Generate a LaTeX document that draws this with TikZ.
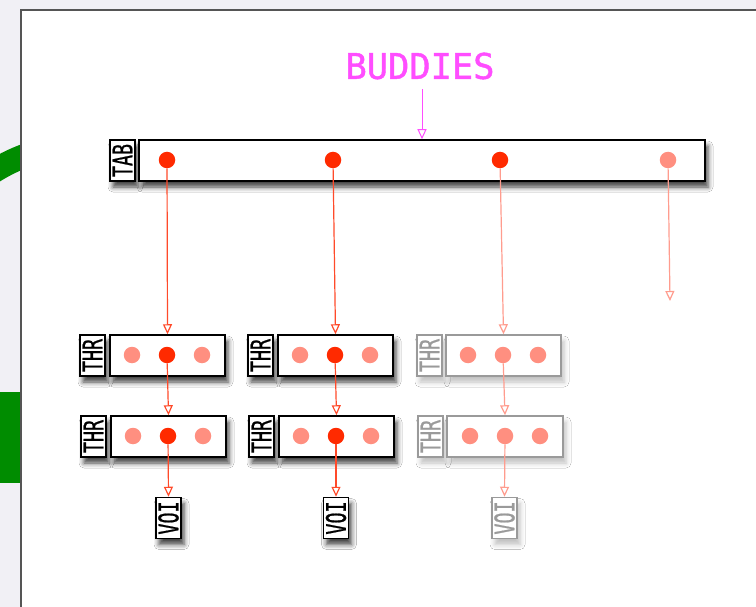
\documentclass[tikz,border=0pt]{standalone}
\usepackage{fontspec}
\newfontfamily\titlefont[FakeBold=1.2]{DejaVu Sans Mono}
\newfontfamily\tagfont[FakeBold=1.0]{DejaVu Sans Mono}
\usetikzlibrary{arrows.meta,shadows.blur}

\definecolor{bgpage}{HTML}{F1F0F5}
\definecolor{panelline}{HTML}{555555}
\definecolor{leafgreen}{HTML}{008C00}
\definecolor{hot}{HTML}{FF2A00}
\definecolor{hotline}{HTML}{FF4A2A}
\definecolor{pale}{HTML}{FF8F80}
\definecolor{paleline}{HTML}{FF9C8E}
\definecolor{buddypink}{HTML}{FF4DFF}
\definecolor{fadegray}{HTML}{9A9A9A}

\newcommand\tagtext[1]{\rotatebox{90}{\scalebox{0.68}[1]{#1}}}

\tikzset{
  boxbase/.style={draw=black, line width=1.5pt, fill=white, inner sep=0pt},
  darkshade/.style={blur shadow={shadow xshift=3pt, shadow yshift=-6pt,
      shadow blur radius=5pt, shadow opacity=75}},
  lightshade/.style={blur shadow={shadow xshift=3pt, shadow yshift=-6pt,
      shadow blur radius=5pt, shadow opacity=25}},
  tagbox/.style={boxbase, darkshade, minimum width=25pt, minimum height=41pt,
      font=\tagfont\fontsize{27}{27}\selectfont},
  barbox/.style={boxbase, darkshade, minimum height=41pt},
  fadetag/.style={boxbase, lightshade, draw=fadegray, text=fadegray,
      minimum width=25pt, minimum height=41pt,
      font=\tagfont\fontsize{27}{27}\selectfont},
  fadebar/.style={boxbase, lightshade, draw=fadegray, minimum height=41pt},
  dot/.style={circle, inner sep=0pt, minimum size=16.5pt, fill=hot},
  paledot/.style={dot, fill=pale},
  link/.style={draw=hotline, line width=1.2pt,
      -{Triangle[open, length=10pt, width=9pt]}},
  palelink/.style={link, draw=paleline},
  pinklink/.style={link, draw=buddypink, line width=1pt},
}

\begin{document}
\begin{tikzpicture}[x=1pt, y=1pt]
\useasboundingbox (0,0) rectangle (756,-607);
\clip (0,0) rectangle (756,-607);
\fill[bgpage] (0,0) rectangle (756,-607);

% green shapes lying behind the panel
\begin{scope}
  \clip (0,-130) rectangle (22,-200);
  \draw[leafgreen, line width=24pt] (85,-317) circle[radius=172];
\end{scope}
\fill[leafgreen] (0,-392) rectangle (21,-483);

% white panel
\draw[panelline, line width=2.4pt, fill=white] (21,-10) rectangle (780,-630);

% title
\node[font=\titlefont\fontsize{34}{34}\selectfont, text=buddypink, inner sep=0pt]
  (buddies) at (420,-66) {\scalebox{1.04}[1.04]{BUDDIES}};

% table
\node[tagbox] (tabtag) at (122.5,-160.5) {\tagtext{TAB}};
\node[barbox, minimum width=566pt] (tab) at (422,-160.5) {};
\node[dot] (t1) at (167,-160) {};
\node[dot] (t2) at (333,-160) {};
\node[dot] (t3) at (500,-160) {};
\node[paledot] (t4) at (668,-160) {};
\coordinate (drop) at (670,-301);

% first row of thread boxes
\node[tagbox] (ta1) at (92.5,-355.5) {\tagtext{THR}};
\node[barbox, minimum width=115pt] (a1) at (167.5,-355.5) {};
\node[paledot] (a1l) at (132,-355) {};
\node[dot] (a1c) at (167,-355) {};
\node[paledot] (a1r) at (202,-355) {};

\node[tagbox] (ta2) at (260.5,-355.5) {\tagtext{THR}};
\node[barbox, minimum width=115pt] (a2) at (335.5,-355.5) {};
\node[paledot] (a2l) at (300,-355) {};
\node[dot] (a2c) at (335,-355) {};
\node[paledot] (a2r) at (370,-355) {};

\node[fadetag] (ta3) at (429.5,-355.5) {\tagtext{THR}};
\node[fadebar, minimum width=115pt] (a3) at (503.5,-355.5) {};
\node[paledot] (a3l) at (468,-355) {};
\node[paledot] (a3c) at (503,-355) {};
\node[paledot] (a3r) at (538,-355) {};

% second row of thread boxes
\node[tagbox] (tb1) at (93.5,-436.5) {\tagtext{THR}};
\node[barbox, minimum width=115pt] (b1) at (168.5,-436.5) {};
\node[paledot] (b1l) at (133,-436) {};
\node[dot] (b1c) at (168,-436) {};
\node[paledot] (b1r) at (203,-436) {};

\node[tagbox] (tb2) at (261.5,-436.5) {\tagtext{THR}};
\node[barbox, minimum width=115pt] (b2) at (336.5,-436.5) {};
\node[paledot] (b2l) at (301,-436) {};
\node[dot] (b2c) at (336,-436) {};
\node[paledot] (b2r) at (371,-436) {};

\node[fadetag] (tb3) at (430.5,-436.5) {\tagtext{THR}};
\node[fadebar, minimum width=116pt] (b3) at (505,-436.5) {};
\node[paledot] (b3l) at (470,-436) {};
\node[paledot] (b3c) at (505,-436) {};
\node[paledot] (b3r) at (540,-436) {};

% leaf boxes
\node[tagbox] (v1) at (168.5,-518) {\tagtext{VOI}};
\node[tagbox] (v2) at (336,-518) {\tagtext{VOI}};
\node[fadetag] (v3) at (504.5,-518) {\tagtext{VOI}};

% connectors
\draw[pinklink, shorten <=9.5pt] (buddies.south -| tab.north) -- (tab.north);
\draw[link] (t1) -- (a1.north);
\draw[link] (t2) -- (a2.north);
\draw[palelink] (t3) -- (a3.north);
\draw[palelink] (t4) -- (drop);
\draw[link] (a1c) -- (b1.north);
\draw[link] (a2c) -- (b2.north);
\draw[palelink] (a3c) -- (b3.north);
\draw[link] (b1c) -- (v1.north);
\draw[link] (b2c) -- (v2.north);
\draw[palelink] (b3c) -- (v3.north);
\end{tikzpicture}
\end{document}
